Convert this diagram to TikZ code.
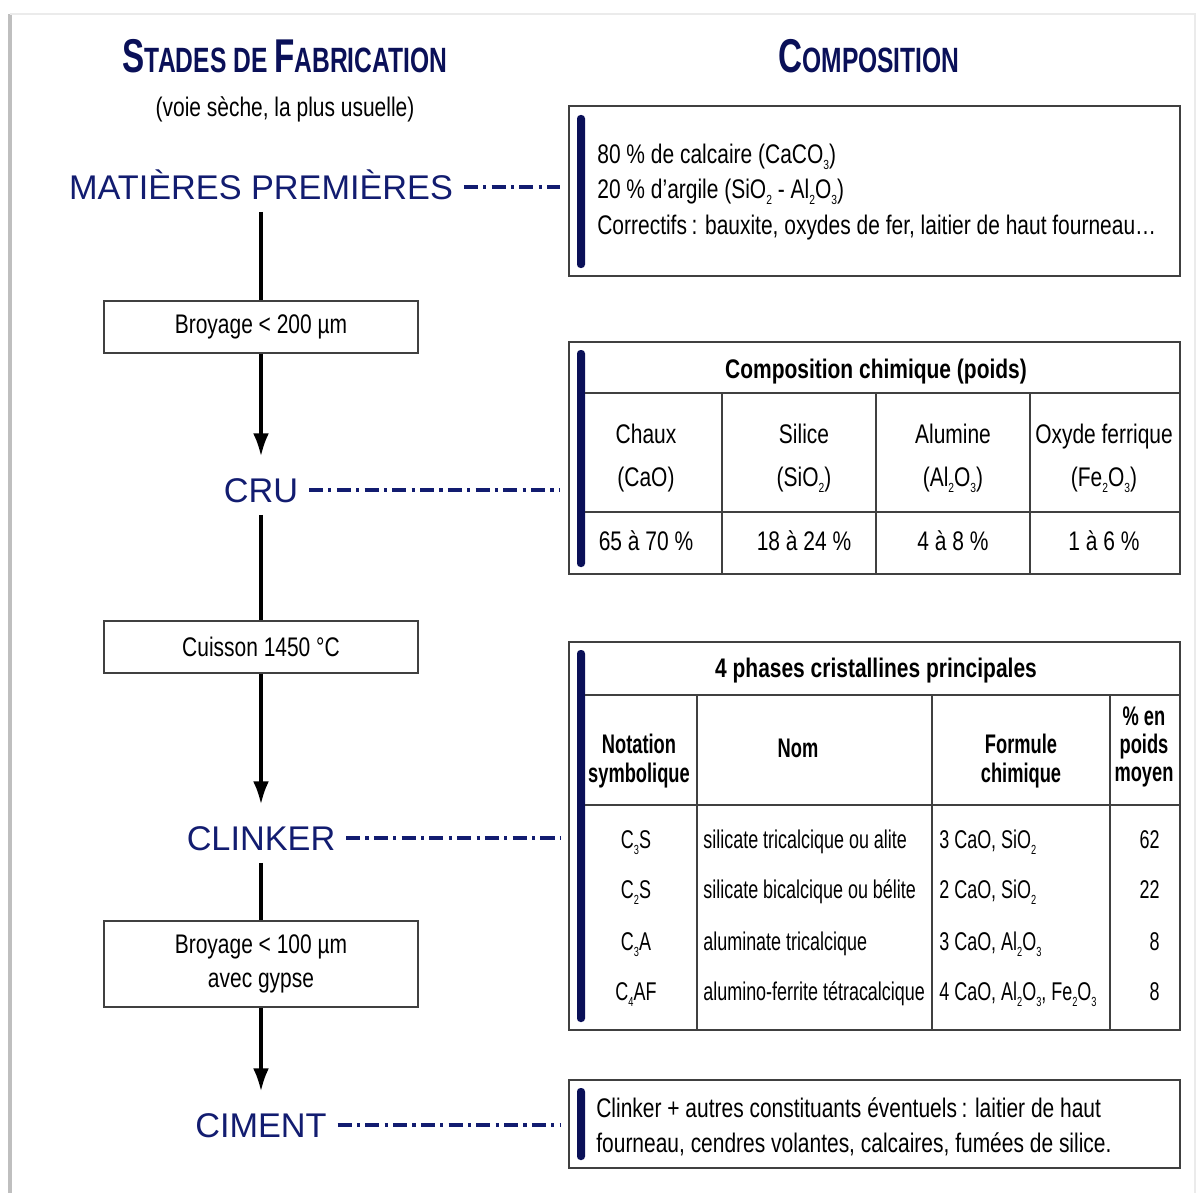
\documentclass[tikz,border=0pt]{standalone}
\usepackage{fontspec}
\setmainfont{Liberation Sans}
\newfontfamily\narrowfont{Liberation Sans}[FakeStretch=0.78]
\newfontfamily\tightfont{Liberation Sans}[FakeStretch=0.70]
\newfontfamily\squeezefont{Liberation Sans}[FakeStretch=0.68]
\newfontfamily\titlefont{Liberation Sans}[FakeStretch=0.70]
\usetikzlibrary{arrows.meta,positioning}
\definecolor{navy}{RGB}{18,28,112}
\definecolor{darknavy}{RGB}{10,16,88}
\newcommand\chemsub[1]{\raisebox{-0.45ex}{\fontsize{7.5}{7.5}\selectfont #1}}
\newcommand\capletter[1]{{\fontsize{27}{27}\selectfont #1}}
\newcommand\bodyfont{\narrowfont\fontsize{15.3}{20}\selectfont}
\newcommand\boldfont{\narrowfont\bfseries\fontsize{15.3}{20}\selectfont}
\newcommand\cellfont{\tightfont\fontsize{14.6}{18}\selectfont}
\newcommand\thfont{\squeezefont\bfseries\fontsize{15.3}{16}\selectfont}
\begin{document}
\begin{tikzpicture}[x=0.02cm, y=-0.02cm,
	stage/.style={text=navy, font=\fontsize{19.5}{20}\selectfont, inner sep=0pt, text height=14pt, text depth=0pt},
	stepbox/.style={draw=black!75, line width=1pt, minimum width=6.28cm, font=\bodyfont, align=center},
	panel/.style={draw=black!75, line width=1.2pt, minimum width=12.22cm},
	flow/.style={line width=1.8pt, shorten >=12pt, -{Latex[length=13pt,width=9pt]}},
	feed/.style={line width=1.8pt, shorten <=7pt},
	link/.style={navy, line width=1.9pt, dash pattern=on 8pt off 3pt on 1.8pt off 3pt, shorten <=6pt, shorten >=4.5pt},
	rule/.style={black!75, line width=0.9pt},
	bar/.style={fill=darknavy, rounded corners=2pt}]
	\useasboundingbox (0,0) rectangle (1200,1193);
	\fill[white] (0,0) rectangle (1200,1193);
	% Cadre de la page
	\draw[black!25, line width=2pt] (10,1193) -- (10,14);
	\draw[black!8, line width=1pt] (10,14) -- (1195,14) -- (1195,1193);
	% Titres
	\node[anchor=base, text=darknavy] (ttlstade) at (285,72) {\titlefont\bfseries\fontsize{20}{20}\selectfont\capletter{S}TADES DE \capletter{F}ABRICATION};
	\node[anchor=base, text=darknavy] (ttlcomp) at (869,72) {\titlefont\bfseries\fontsize{20}{20}\selectfont\capletter{C}OMPOSITION};
	\node[anchor=base, font=\bodyfont] (ttlvoie) at (285,116) {(voie sèche, la plus usuelle)};
	% Stades de fabrication
	\node[stage] (mp) at (261,187) {MATIÈRES PREMIÈRES};
	\node[stepbox, minimum height=1.04cm] (broy1) at (261,327) {Broyage < 200 µm};
	\node[stage] (cru) at (261,490) {CRU};
	\node[stepbox, minimum height=1.04cm] (cuis) at (261,647) {Cuisson 1450 °C};
	\node[stage] (clk) at (261,838) {CLINKER};
	\node[stepbox, minimum height=1.72cm] (broy2) at (261,964) {Broyage < 100 µm\\[-1pt]avec gypse};
	\node[stage] (cim) at (261,1125) {CIMENT};
	\draw[feed] (mp) -- (broy1);
	\draw[flow] (broy1) -- (cru);
	\draw[feed] (cru) -- (cuis);
	\draw[flow] (cuis) -- (clk);
	\draw[feed] (clk) -- (broy2);
	\draw[flow] (broy2) -- (cim);
	% Cadres de composition
	\node[panel, minimum height=3.4cm] (rawbox) at (874.5,191) {};
	\node[panel, minimum height=4.64cm] (chembox) at (874.5,458) {};
	\node[panel, minimum height=7.76cm] (phasebox) at (874.5,836) {};
	\node[panel, minimum height=1.76cm] (cembox) at (874.5,1124) {};
	\draw[link] (mp) -- (mp -| rawbox.west);
	\draw[link] (cru) -- (cru -| chembox.west);
	\draw[link] (clk) -- (clk -| phasebox.west);
	\draw[link] (cim) -- (cim -| cembox.west);
	\fill[bar] (577,115) rectangle (585,268);
	\fill[bar] (577,350) rectangle (585,567);
	\fill[bar] (577,650) rectangle (585,1022);
	\fill[bar] (577,1088) rectangle (585,1160);
	% Matieres premieres
	\foreach \yy/\txt [count=\i] in {163/{80 \% de calcaire (CaCO\chemsub{3})}, 198/{20 \% d’argile (SiO\chemsub{2} - Al\chemsub{2}O\chemsub{3})}, 234/{Correctifs\,: bauxite, oxydes de fer, laitier de haut fourneau\ldots}} {
	\node[anchor=base west, font=\bodyfont, inner sep=0pt] (raw\i) at (597,\yy) {\txt};
	}
	% Composition chimique
	\node[anchor=base, font=\boldfont] (chemhead) at (876,378) {Composition chimique (poids)};
	\draw[rule] (585,393) -- (1180,393);
	\draw[rule] (585,512) -- (1180,512);
	\foreach \xx in {722,876,1030} {
	\draw[rule] (\xx,393) -- (\xx,574);
	}
	\foreach \xx/\nom/\form/\taux [count=\i] in {646/Chaux/{(CaO)}/{65 à 70 \%}, 804/Silice/{(SiO\chemsub{2})}/{18 à 24 \%}, 953/Alumine/{(Al\chemsub{2}O\chemsub{3})}/{4 à 8 \%}, 1104/{Oxyde ferrique}/{(Fe\chemsub{2}O\chemsub{3})}/{1 à 6 \%}} {
	\node[anchor=base, font=\bodyfont, inner sep=0pt] (oxnom\i) at (\xx,443) {\nom};
	\node[anchor=base, font=\bodyfont, inner sep=0pt] (oxform\i) at (\xx,486) {\form};
	\node[anchor=base, font=\bodyfont, inner sep=0pt] (oxtaux\i) at (\xx,550) {\taux};
	}
	% Phases cristallines
	\node[anchor=base, font=\boldfont] (phasehead) at (876,677) {4 phases cristallines principales};
	\draw[rule] (585,695) -- (1180,695);
	\draw[rule] (585,805) -- (1180,805);
	\foreach \xx in {697,932,1110} {
	\draw[rule] (\xx,695) -- (\xx,1030);
	}
	\node[font=\thfont, align=center, inner sep=0pt] (hnota) at (639,761) {Notation\\symbolique};
	\node[font=\thfont, anchor=base, inner sep=0pt] (hnom) at (798,757) {Nom};
	\node[font=\thfont, align=center, inner sep=0pt] (hform) at (1021,761) {Formule\\chimique};
	\node[font=\thfont, align=center, inner sep=0pt] (hpct) at (1144,747) {\% en\\poids\\moyen};
	\foreach \yy/\nota/\nom/\form/\pct [count=\i] in {848/{C\chemsub{3}S}/{silicate tricalcique ou alite}/{3 CaO, SiO\chemsub{2}}/62, 898/{C\chemsub{2}S}/{silicate bicalcique ou bélite}/{2 CaO, SiO\chemsub{2}}/22, 950/{C\chemsub{3}A}/{aluminate tricalcique}/{3 CaO, Al\chemsub{2}O\chemsub{3}}/8, 1000/{C\chemsub{4}AF}/{alumino-ferrite tétracalcique}/{4 CaO, Al\chemsub{2}O\chemsub{3}, Fe\chemsub{2}O\chemsub{3}}/8} {
	\node[anchor=base, font=\cellfont, inner sep=0pt] (pnota\i) at (636,\yy) {\nota};
	\node[anchor=base west, font=\cellfont, inner sep=0pt] (pnom\i) at (703,\yy) {\nom};
	\node[anchor=base west, font=\cellfont, inner sep=0pt] (pform\i) at (939,\yy) {\form};
	\node[anchor=base east, font=\cellfont, inner sep=0pt] (ppct\i) at (1160,\yy) {\pct};
	}
	% Ciment
	\node[anchor=base west, font=\bodyfont, inner sep=0pt] (cem1) at (596,1117) {Clinker + autres constituants éventuels\,: laitier de haut};
	\node[anchor=base west, font=\bodyfont, inner sep=0pt] (cem2) at (596,1152) {fourneau, cendres volantes, calcaires, fumées de silice.};
\end{tikzpicture}
\end{document}
